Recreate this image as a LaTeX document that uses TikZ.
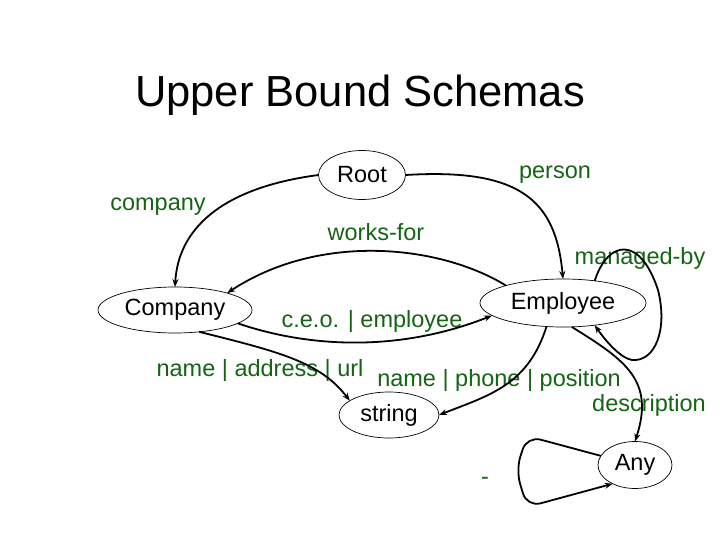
\documentclass[tikz,border=0pt]{standalone}
\usepackage{fontspec}
\setmainfont{Liberation Sans}
\usetikzlibrary{shapes.geometric,arrows.meta}
\definecolor{lblgreen}{RGB}{20,100,20}
\begin{document}
\begin{tikzpicture}[x=1pt,y=-1pt,
  every node/.style={inner sep=0pt,outer sep=0pt},
  ell/.style={draw,ellipse,line width=0.7pt,minimum width=#1},
  ntext/.style={font=\fontsize{23.5}{28}\selectfont},
  lbl/.style={text=lblgreen,font=\fontsize{23.5}{28}\selectfont},
  edge/.style={line width=1.8pt,-{Stealth[length=8pt,width=6pt]}}]
\useasboundingbox (0,0) rectangle (720,540);
\node[font=\fontsize{43.5}{50}\selectfont] (title) at (360,95) {Upper Bound Schemas};
% nodes
\node[ell, minimum width=87pt, minimum height=49pt, ntext] (root) at (362,175) {Root};
\node[ell, minimum width=154pt, minimum height=46pt, ntext] (company) at (175,310) {Company};
\node[ell, minimum width=166pt, minimum height=48pt, ntext] (employee) at (563,303) {Employee};
\node[ell, minimum width=100pt, minimum height=46pt, ntext] (string) at (389,415) {string};
\node[ell, minimum width=74pt, minimum height=47pt, ntext] (any) at (635,465) {Any};
% labels
\node[lbl] (lcompany) at (158,207) {company};
\node[lbl] (lperson) at (555,175) {person};
\node[lbl] (lworks) at (376,232) {works-for};
\node[lbl] (lmanaged) at (640,258) {managed-by};
\node[lbl] (lceo) at (372,321) {c.e.o. | employee};
\node[lbl] (lnau) at (260,370) {name | address | url};
\node[lbl] (lnpp) at (499,380) {name | phone | position};
\node[lbl] (ldesc) at (649,405) {description};
\node[lbl] (ldash) at (485,481) {-};
% edges
\draw[edge] (root.west) .. controls (220,188) and (178,230) .. (company.north);
\draw[edge] (root.east) .. controls (520,168) and (556,200) .. (employee.north);
\draw[edge] (employee.163) .. controls (440,245) and (320,232) .. (company.18);
\draw[edge] (company.-12) .. controls (310,348) and (400,352) .. (employee.190);
\draw[edge] (company.-42) .. controls (280,352) and (320,362) .. (string.160);
\draw[edge] (employee.-125) .. controls (528,385) and (490,395) .. (string.east);
\draw[edge] (employee.-70) .. controls (625,360) and (655,380) .. (any.north);
\draw[edge] (employee.35) .. controls (608,240) and (640,235) .. (658,290)
   .. controls (668,330) and (655,362) .. (632,360)
   .. controls (620,358) and (605,340) .. (employee.-35);
\draw[edge, rounded corners=14pt] (any.165) -- (527,436) -- (516,470) -- (527,507) -- (any.-140);
\end{tikzpicture}
\end{document}
